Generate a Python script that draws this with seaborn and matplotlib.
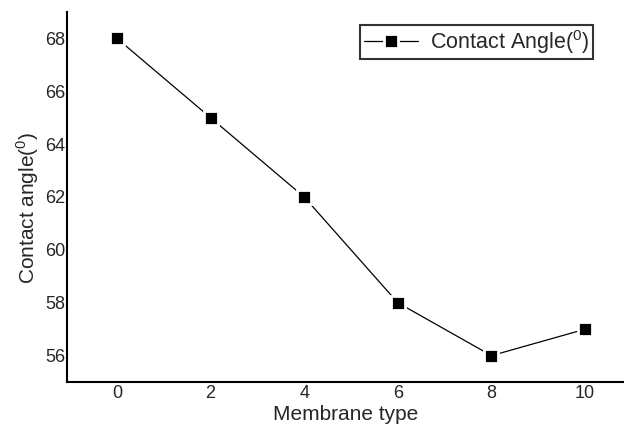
import pandas as pd
import seaborn as sns
import matplotlib.pyplot as plt

# data
membrane = [0, 2, 4, 6, 8, 10]
angle = [68, 65, 62, 58, 56, 57]

df = pd.DataFrame({"membrane": membrane, "angle": angle})

sns.set_style("white")
plt.rcParams['font.family'] = ['Liberation Sans', 'DejaVu Sans']
plt.rcParams['mathtext.fontset'] = 'custom'
plt.rcParams['mathtext.rm'] = 'Liberation Sans'

fig = plt.figure(figsize=(6.24, 4.25), dpi=100)
ax = fig.add_axes([0.107, 0.101, 0.893, 0.871])

sns.lineplot(x='membrane', y='angle', data=df, ax=ax, color='black', lw=0.9,
             marker='s', markersize=10, markerfacecolor='black',
             markeredgecolor='white', markeredgewidth=2,
             label=r'Contact Angle($^0$)')

ax.set_xlim(-1.07, 10.83)
ax.set_ylim(55.0, 69.0)
ax.set_xticks(membrane)
ax.set_yticks([56, 58, 60, 62, 64, 66, 68])
ax.tick_params(length=0, labelsize=13)
ax.tick_params(axis='y', pad=1)
ax.tick_params(axis='x', pad=2)

sns.despine(ax=ax)
for s in ['left', 'bottom']:
    ax.spines[s].set_color('black')
    ax.spines[s].set_linewidth(1.5)

ax.set_xlabel('Membrane type', fontsize=15, labelpad=2)
ax.set_ylabel(r'Contact angle($^0$)', fontsize=15)
ax.yaxis.set_label_coords(-0.047, 0.47)

leg = ax.legend(loc='upper right', bbox_to_anchor=(0.944, 0.965), fontsize=15.5,
                frameon=True, fancybox=False, borderpad=0.15, borderaxespad=0,
                handlelength=2.5, handletextpad=0.6)
leg.get_frame().set_edgecolor('black')
leg.get_frame().set_linewidth(1.5)

plt.savefig('out.png', dpi=100)
